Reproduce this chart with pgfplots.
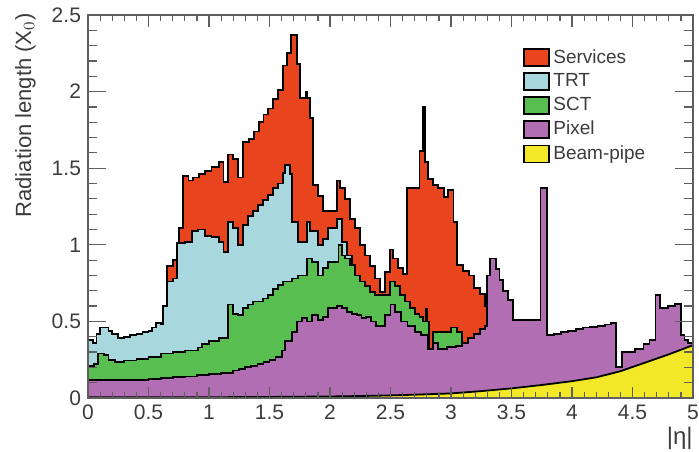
\documentclass[border=0pt]{standalone}
\usepackage{fontspec}
\setmainfont{Liberation Sans}
\usepackage{pgfplots}
\pgfplotsset{compat=1.18}
\definecolor{serv}{RGB}{232,68,30}
\definecolor{trt}{RGB}{168,216,222}
\definecolor{sct}{RGB}{88,190,80}
\definecolor{pix}{RGB}{178,110,178}
\definecolor{bp}{RGB}{242,232,40}
\definecolor{txt}{RGB}{60,60,60}
\definecolor{frm}{RGB}{95,95,95}
\begin{document}
\begin{tikzpicture}
\pgfplotsset{
  common/.style={
    scale only axis, width=302.5pt, height=191.5pt,
    xmin=0, xmax=5, ymin=0, ymax=2.5,
    axis on top,
    axis line style={frm, line width=0.6pt},
    every tick/.style={frm, line width=0.6pt},
    /pgf/number format/assume math mode=true,
    tick label style={font=\fontsize{10.5}{12}\selectfont, text=txt},
  },
  area/.style={const plot, draw=black, line width=0.9pt, forget plot},
}
\begin{axis}[common, name=main,
  xtick=\empty,
  ytick={0,0.5,1,1.5,2,2.5},
  yticklabels={0,0.5,1,1.5,2,2.5},
  minor y tick num=4,
  major tick length=9pt, minor tick length=4.5pt,
  ylabel={Radiation length (X$_0$)},
  ylabel style={at={(axis description cs:-0.121,1.005)}, anchor=north east, inner sep=0pt,
    font=\fontsize{11}{13}\selectfont, text=txt},
  legend image code/.code={\draw[#1] (0pt,-4.25pt) rectangle (12.5pt,4.25pt);},
  legend style={at={(axis description cs:0.719,0.92)}, anchor=north west, draw=none, fill=none,
    font=\fontsize{9.5}{11}\selectfont, text=txt, inner sep=0pt, row sep=0.6pt,
    nodes={inner sep=1.6pt}},
  legend cell align=left,
]
% Services (total)
\addplot[area, fill=serv] coordinates {(0,0.38)(0.04,0.36)(0.07,0.42)(0.10,0.46)(0.17,0.44)(0.20,0.42)(0.25,0.39)(0.30,0.40)(0.35,0.41)(0.40,0.42)(0.45,0.43)(0.50,0.44)(0.53,0.46)(0.56,0.49)(0.60,0.48)(0.62,0.60)(0.65,0.86)(0.70,0.90)(0.755,1.11)(0.785,1.45)(0.83,1.42)(0.87,1.44)(0.92,1.46)(0.97,1.48)(1.02,1.51)(1.08,1.54)(1.12,1.41)(1.16,1.59)(1.20,1.56)(1.24,1.44)(1.28,1.67)(1.33,1.69)(1.37,1.74)(1.41,1.80)(1.45,1.85)(1.49,1.89)(1.53,1.95)(1.57,2.01)(1.61,2.17)(1.645,2.25)(1.68,2.37)(1.725,2.18)(1.75,1.96)(1.80,2.00)(1.81,1.96)(1.835,1.83)(1.86,1.39)(1.90,1.32)(1.945,1.22)(2.055,1.42)(2.083,1.37)(2.124,1.30)(2.165,1.17)(2.207,1.11)(2.248,1.00)(2.289,0.93)(2.33,0.86)(2.372,0.78)(2.413,0.69)(2.455,0.82)(2.496,0.97)(2.523,0.91)(2.564,0.85)(2.605,0.81)(2.633,1.37)(2.74,1.61)(2.77,1.90)(2.785,1.54)(2.81,1.43)(2.85,1.39)(2.895,1.37)(2.94,1.31)(2.978,1.36)(3.02,1.15)(3.047,0.87)(3.10,0.83)(3.15,0.80)(3.19,0.72)(3.24,0.68)(3.28,0.60)(3.30,0.60)} \closedcycle;
% TRT
\addplot[area, fill=trt] coordinates {(0,0.38)(0.04,0.36)(0.07,0.42)(0.10,0.46)(0.17,0.44)(0.20,0.42)(0.25,0.39)(0.30,0.40)(0.35,0.41)(0.40,0.42)(0.45,0.43)(0.50,0.44)(0.53,0.46)(0.56,0.49)(0.60,0.48)(0.62,0.60)(0.65,0.76)(0.70,0.78)(0.735,1.01)(0.80,1.02)(0.86,1.09)(0.91,1.10)(0.97,1.06)(1.02,1.05)(1.08,1.02)(1.12,0.955)(1.16,1.15)(1.20,1.11)(1.24,1.00)(1.28,1.13)(1.325,1.19)(1.366,1.22)(1.408,1.26)(1.449,1.29)(1.49,1.325)(1.532,1.37)(1.573,1.40)(1.614,1.47)(1.63,1.52)(1.67,1.46)(1.683,1.15)(1.738,1.02)(1.807,1.15)(1.835,1.09)(1.904,1.00)(1.945,1.04)(1.986,1.11)(2.055,1.17)(2.10,1.02)(2.138,0.93)(2.18,0.93)} \closedcycle;
% SCT
\addplot[area, fill=sct] coordinates {(0,0.21)(0.05,0.22)(0.08,0.29)(0.13,0.28)(0.17,0.25)(0.22,0.235)(0.30,0.245)(0.40,0.255)(0.50,0.27)(0.60,0.29)(0.70,0.30)(0.80,0.31)(0.91,0.33)(0.94,0.35)(1.00,0.37)(1.08,0.39)(1.16,0.61)(1.20,0.55)(1.24,0.54)(1.284,0.585)(1.325,0.61)(1.366,0.63)(1.449,0.65)(1.49,0.67)(1.532,0.71)(1.573,0.74)(1.614,0.76)(1.683,0.78)(1.738,0.80)(1.807,0.91)(1.848,0.89)(1.904,0.80)(1.945,0.85)(1.986,0.89)(2.07,1.00)(2.10,0.93)(2.124,0.91)(2.165,0.87)(2.207,0.80)(2.248,0.76)(2.289,0.73)(2.33,0.69)(2.372,0.67)(2.455,0.67)(2.496,0.76)(2.537,0.73)(2.578,0.67)(2.62,0.63)(2.66,0.585)(2.70,0.55)(2.74,0.53)(2.77,0.50)(2.795,0.58)(2.805,0.50)(2.82,0.32)(2.85,0.43)(2.94,0.43)(3.00,0.46)(3.05,0.43)(3.09,0.34)} \closedcycle;
% Pixel
\addplot[area, fill=pix] coordinates {(0,0.115)(0.30,0.12)(0.50,0.125)(0.60,0.13)(0.70,0.135)(0.80,0.14)(0.90,0.15)(1.00,0.155)(1.10,0.165)(1.20,0.18)(1.25,0.19)(1.30,0.20)(1.35,0.21)(1.40,0.22)(1.45,0.235)(1.50,0.25)(1.55,0.27)(1.60,0.31)(1.628,0.37)(1.683,0.43)(1.725,0.50)(1.766,0.52)(1.807,0.50)(1.848,0.54)(1.904,0.51)(1.945,0.53)(1.986,0.585)(2.055,0.60)(2.096,0.59)(2.138,0.56)(2.18,0.55)(2.22,0.54)(2.26,0.52)(2.30,0.53)(2.34,0.50)(2.38,0.47)(2.455,0.54)(2.50,0.61)(2.54,0.56)(2.59,0.50)(2.64,0.47)(2.70,0.43)(2.75,0.41)(2.81,0.32)(2.85,0.36)(2.89,0.32)(2.97,0.335)(3.04,0.34)(3.09,0.36)(3.14,0.39)(3.19,0.42)(3.24,0.45)(3.28,0.47)(3.30,0.80)(3.32,0.91)(3.37,0.84)(3.40,0.77)(3.43,0.70)(3.47,0.64)(3.51,0.51)(3.74,1.37)(3.79,0.41)(3.85,0.42)(3.91,0.43)(3.97,0.44)(4.03,0.45)(4.09,0.46)(4.15,0.465)(4.21,0.47)(4.27,0.48)(4.32,0.49)(4.365,0.20)(4.41,0.30)(4.52,0.32)(4.59,0.35)(4.64,0.38)(4.69,0.67)(4.73,0.585)(4.79,0.60)(4.85,0.615)(4.90,0.41)(4.93,0.38)(4.96,0.36)(5.00,0.36)} \closedcycle;
% Beam-pipe
\addplot[fill=bp, draw=black, line width=0.9pt, forget plot] coordinates {(0,0.004)(0.5,0.004)(1,0.005)(1.5,0.007)(2,0.010)(2.25,0.013)(2.5,0.017)(2.75,0.023)(3,0.030)(3.25,0.045)(3.5,0.063)(3.75,0.085)(4,0.11)(4.2,0.135)(4.4,0.175)(4.6,0.23)(4.8,0.285)(5,0.345)} \closedcycle;
\addlegendimage{fill=serv, draw=black, line width=0.9pt}
\addlegendentry{Services}
\addlegendimage{fill=trt, draw=black, line width=0.9pt}
\addlegendentry{TRT}
\addlegendimage{fill=sct, draw=black, line width=0.9pt}
\addlegendentry{SCT}
\addlegendimage{fill=pix, draw=black, line width=0.9pt}
\addlegendentry{Pixel}
\addlegendimage{fill=bp, draw=black, line width=0.9pt}
\addlegendentry{Beam-pipe}
\end{axis}
\begin{axis}[common,
  ytick=\empty,
  xtick={0,0.5,1,1.5,2,2.5,3,3.5,4,4.5,5},
  xticklabels={0,0.5,1,1.5,2,2.5,3,3.5,4,4.5,5},
  minor x tick num=4,
  major tick length=5.75pt, minor tick length=2.9pt,
  xlabel={|η|},
  xlabel style={at={(axis description cs:1,0)}, anchor=north east, inner sep=0pt, yshift=-14.5pt,
    font=\fontsize{12}{14}\selectfont, text=txt},
]
\end{axis}
\pgfresetboundingbox
\path ([shift={(-44pt,-26.5pt)}]main.south west) rectangle ([shift={(3pt,7.5pt)}]main.north east);
\end{tikzpicture}
\end{document}
